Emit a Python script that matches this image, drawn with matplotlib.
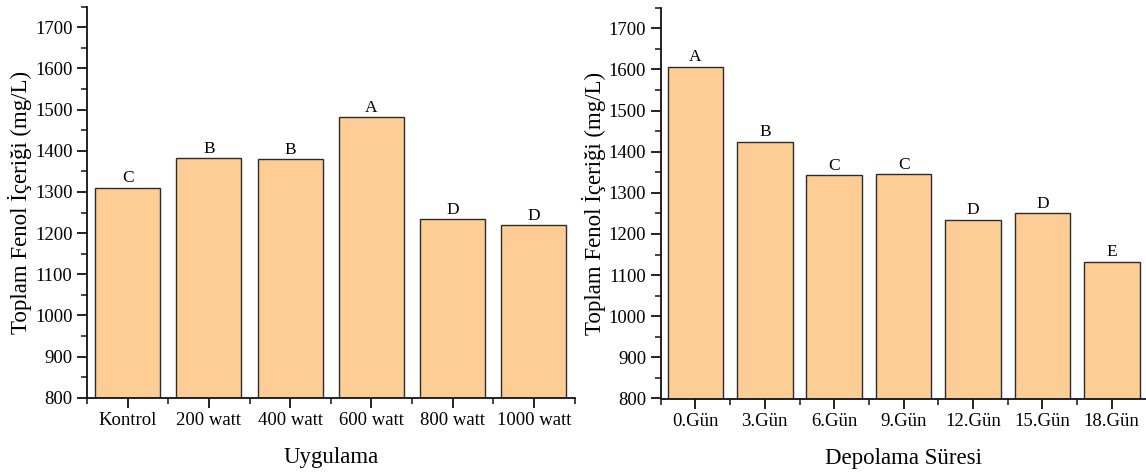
import matplotlib
matplotlib.use("Agg")
import matplotlib.pyplot as plt
from matplotlib.ticker import MultipleLocator, FixedLocator
import numpy as np

plt.rcParams['font.family'] = ['Liberation Serif', 'DejaVu Serif']

# Treatment panel
treatments = ["Kontrol", "200 watt", "400 watt", "600 watt", "800 watt", "1000 watt"]
treatment_values = [1310, 1382, 1380, 1482, 1234, 1219]
treatment_letters = ["C", "B", "B", "A", "D", "D"]

# Storage panel
days = ["0.Gün", "3.Gün", "6.Gün", "9.Gün", "12.Gün", "15.Gün", "18.Gün"]
day_values = [1607, 1424, 1343, 1346, 1235, 1250, 1133]
day_letters = ["A", "B", "C", "C", "D", "D", "E"]

ylabel = "Toplam Fenol İçeriği (mg/L)"
bar_color = "#FECD96"
edge_color = "#2b2b2b"

W, H = 1146, 473
fig = plt.figure(figsize=(W / 100, H / 100), dpi=100)


def px_axes(x0, x1, ybot, ytop):
    return fig.add_axes([x0 / W, 1 - ybot / H, (x1 - x0) / W, (ybot - ytop) / H])


def draw_panel(ax, cats, vals, letters, xlabel, ylab_x):
    x = np.arange(len(cats))
    bars = ax.bar(x, vals, width=0.8, color=bar_color, edgecolor=edge_color,
                  linewidth=1.0, zorder=2)
    for b, lab, v in zip(bars, letters, vals):
        ax.annotate(lab, (b.get_x() + b.get_width() / 2, v), xytext=(0, 1.0),
                    textcoords="offset points", ha="center", va="bottom",
                    fontsize=12.5)
    ax.set_xlim(-0.5, len(cats) - 0.5)
    ax.set_ylim(800, 1750)
    ax.set_xticks(x)
    ax.set_xticklabels(cats)
    ax.xaxis.set_minor_locator(FixedLocator(np.arange(-0.5, len(cats), 1.0)))
    ax.yaxis.set_major_locator(FixedLocator(np.arange(800, 1701, 100)))
    ax.yaxis.set_minor_locator(MultipleLocator(50))
    for s in ("top", "right"):
        ax.spines[s].set_visible(False)
    for s in ("left", "bottom"):
        ax.spines[s].set_linewidth(1.3)
        ax.spines[s].set_color("#111111")
    ax.tick_params(which="major", direction="out", length=7.5, width=1.3,
                   labelsize=13.5, pad=3, color="#111111")
    ax.tick_params(which="minor", direction="out", length=4, width=1.1,
                   color="#111111")
    ax.set_xlabel(xlabel, fontsize=16.5)
    ax.set_ylabel(ylabel, fontsize=16.5)
    ax.xaxis.set_label_coords(0.5, -0.153)
    ax.xaxis.label.set_va("center")
    ax.yaxis.set_label_coords(ylab_x, 0.5)
    ax.yaxis.label.set_va("center")


ax1 = px_axes(87, 574.6, 397.8, 6.7)
draw_panel(ax1, treatments, treatment_values, treatment_letters, "Uygulama", -0.137)

ax2 = px_axes(660.7, 1146.5, 398.5, 7.7)
draw_panel(ax2, days, day_values, day_letters, "Depolama Süresi", -0.137)

fig.savefig("out.png", dpi=100)
